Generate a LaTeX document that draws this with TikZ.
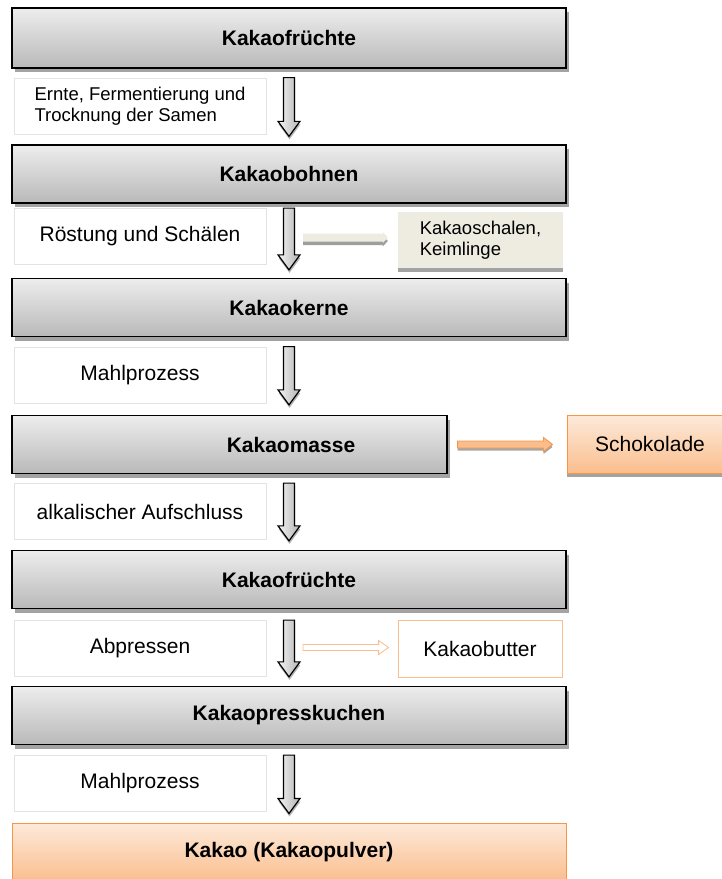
\documentclass[tikz,border=0pt]{standalone}
\usepackage{fontspec}
\setmainfont{Liberation Sans}
\usetikzlibrary{positioning, calc, shadows}
\definecolor{kakaoorange}{RGB}{247,150,70}
\definecolor{kakaopeach}{RGB}{250,190,142}
\definecolor{kakaocream}{RGB}{253,234,218}
\definecolor{kakaobeige}{RGB}{238,236,225}

\tikzset{
  bigfont/.style={font=\fontsize{21}{25}\selectfont},
  smallfont/.style={font=\fontsize{18.5}{21.5}\selectfont},
  stagebox/.style={draw=black, line width=1.3pt, top color=gray!14, bottom color=gray!55,
    minimum width=554, minimum height=58, inner sep=0pt,
    font=\bfseries\fontsize{21}{25}\selectfont,
    drop shadow={shadow xshift=3pt, shadow yshift=-4pt, fill=black!36, opacity=1}},
  endbox/.style={draw=kakaoorange, line width=1pt, top color=kakaocream, bottom color=kakaopeach,
    minimum width=554, minimum height=58, inner sep=0pt,
    font=\bfseries\fontsize{21}{25}\selectfont},
  stepbox/.style={draw=gray!22, line width=0.8pt, fill=white, minimum width=252,
    minimum height=56, inner sep=0pt, align=center, bigfont},
  sidebox/.style={fill=kakaobeige, minimum width=165, minimum height=56, inner sep=0pt,
    align=left, smallfont,
    drop shadow={shadow xshift=0pt, shadow yshift=-3.5pt, fill=black!36, opacity=1}},
  orangebox/.style={draw=kakaoorange, line width=1pt, top color=kakaocream, bottom color=kakaopeach,
    minimum width=166, minimum height=58, inner sep=0pt, bigfont,
    drop shadow={shadow xshift=0pt, shadow yshift=-3.5pt, fill=black!36, opacity=1}},
  butterbox/.style={draw=kakaopeach, line width=0.8pt, fill=white, minimum width=164,
    minimum height=57, inner sep=0pt, bigfont},
  downarrow/.style={draw=black, line width=1.2pt, left color=gray!8, right color=gray!60,
    drop shadow={shadow xshift=0.5pt, shadow yshift=-3pt, fill=black!30, opacity=1}},
  greyarrow/.style={fill=kakaobeige,
    drop shadow={shadow xshift=0pt, shadow yshift=-3.5pt, fill=black!38, opacity=1}},
  orangearrow/.style={draw=kakaoorange, line width=0.9pt, fill=kakaopeach,
    drop shadow={shadow xshift=0pt, shadow yshift=-2.5pt, fill=black!35, opacity=1}},
  butterarrow/.style={draw=kakaopeach, line width=0.8pt, fill=white}
}

% hollow arrow pointing down: top point, tip point
\newcommand{\flowdown}[2]{%
  \path[downarrow] let \p1=(#1), \p2=(#2) in
    (\x1-5.5pt,\y1) -- (\x1+5.5pt,\y1) -- (\x1+5.5pt,\y2+15pt) -- (\x1+11pt,\y2+15pt)
    -- (\x1,\y2) -- (\x1-11pt,\y2+15pt) -- (\x1-5.5pt,\y2+15pt) -- cycle;}
% block arrow pointing right: style, start, end, half shaft, half head, head length
\newcommand{\sidearrow}[6]{%
  \path[#1] let \p1=(#2), \p2=(#3) in
    (\x1,\y1+#4) -- (\x2-#6,\y1+#4) -- (\x2-#6,\y1+#5) -- (\x2,\y1)
    -- (\x2-#6,\y1-#5) -- (\x2-#6,\y1-#4) -- (\x1,\y1-#4) -- cycle;}

\begin{document}
\begin{tikzpicture}[x=1pt, y=-1pt]
\useasboundingbox (0,0) rectangle (722,879);
\coordinate (axis) at (289,0);

% main stages
\node[stagebox, minimum height=60] (frucht) at (289,38) {Kakaofrüchte};
\node[stagebox] (bohnen) at (289,174) {Kakaobohnen};
\node[stagebox] (kerne) at (289,307.5) {Kakaokerne};
\node[stagebox, minimum width=435] (masse) at (229.5,444.5) {};
\node[font=\bfseries\fontsize{21}{25}\selectfont] (massetext) at (291,444.5) {Kakaomasse};
\node[stagebox] (frucht2) at (289,579.5) {Kakaofrüchte};
\node[stagebox] (kuchen) at (289,715.5) {Kakaopresskuchen};
\node[endbox] (pulver) at (289,852) {Kakao (Kakaopulver)};

% process steps
\node[stepbox, align=left, smallfont] (ernte) at (140,106) {Ernte, Fermentierung und\\Trocknung der Samen};
\node[stepbox] (roestung) at (140,236.5) {Röstung und Schälen};
\node[stepbox] (mahl1) at (140,375) {Mahlprozess};
\node[stepbox] (alkali) at (140,511.5) {alkalischer Aufschluss};
\node[stepbox] (pressen) at (140,648.5) {Abpressen};
\node[stepbox] (mahl2) at (140,783.5) {Mahlprozess};

% side products
\node[sidebox] (schalen) at (480.5,240) {Kakaoschalen,\\Keimlinge};
\node[orangebox] (schoko) at (650,444) {Schokolade};
\node[butterbox] (butter) at (480,648.5) {Kakaobutter};

% arrows down
\flowdown{ernte.north -| axis}{$(bohnen.north)+(0,-8)$}
\flowdown{roestung.north -| axis}{$(kerne.north)+(0,-8)$}
\flowdown{mahl1.north -| axis}{$(masse.north -| axis)+(0,-10)$}
\flowdown{alkali.north -| axis}{$(frucht2.north)+(0,-9)$}
\flowdown{pressen.north -| axis}{$(kuchen.north)+(0,-9)$}
\flowdown{mahl2.north -| axis}{$(pulver.north)+(0,-9)$}

% arrows to the side
\sidearrow{greyarrow}{$(schalen.west -| axis)+(14,-2.5)$}{$(schalen.west)+(-10,-2.5)$}{4pt}{5.5pt}{5pt}
\sidearrow{orangearrow}{$(masse.east)+(10,0)$}{$(schoko.west)+(-14,0)$}{3.5pt}{7pt}{9pt}
\sidearrow{butterarrow}{$(butter.west -| axis)+(14,-1)$}{$(butter.west)+(-9,-1)$}{3pt}{7pt}{10pt}
\end{tikzpicture}
\end{document}
